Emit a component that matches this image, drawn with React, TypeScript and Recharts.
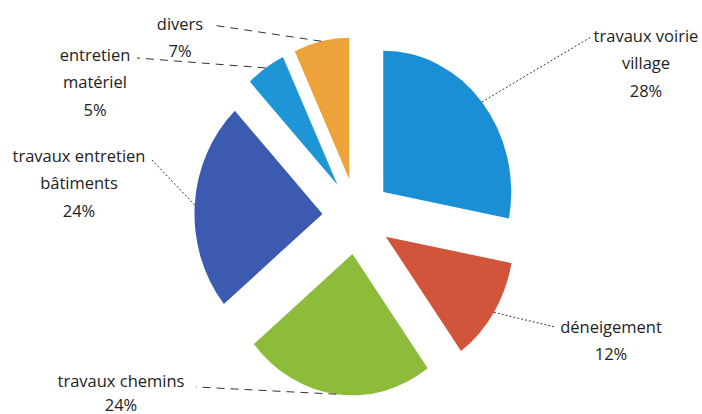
import { PieChart, Pie, Cell } from 'recharts';

const categories = [
  'travaux voirie village',
  'déneigement',
  'travaux chemins',
  'travaux entretien bâtiments',
  'entretien matériel',
  'divers',
];
const shares = [28, 12, 24, 24, 5, 7];
const colors = ['#1b8fd6', '#d0553a', '#8dbb3a', '#3c5bb0', '#1e96d6', '#eda33a'];
// how each category name is broken over lines in the label
const nameLines = [
  ['travaux voirie', 'village'],
  ['déneigement'],
  ['travaux chemins'],
  ['travaux entretien', 'bâtiments'],
  ['entretien', 'matériel'],
  ['divers'],
];

// label placement (text centre x, first line y, leader line end, dash style)
const labelLayout = [
  { x: 646, y: 35, end: [591, 37], dash: '2 2' },
  { x: 611, y: 326, end: [555, 327], dash: '2 2' },
  { x: 121, y: 380, end: [196, 387], dash: '8 6' },
  { x: 79, y: 155, end: [152, 160], dash: '2 2' },
  { x: 95, y: 54, end: [137, 58], dash: '8 6' },
  { x: 180, y: 23, end: [212, 25], dash: '8 6' },
];

const data = categories.map((name, i) => ({ name, value: shares[i] }));
const total = shares.reduce((a, b) => a + b, 0);

const CX = 352;
const CY = 211;
const RADIUS = 134;
const EXPLODE = 36;
// the scanned original is slightly stretched vertically
const SX = 0.955;
const SY = 1.055;
const RAD = Math.PI / 180;

function midAngle(i: number) {
  const before = shares.slice(0, i).reduce((a, b) => a + b, 0);
  return 90 - (360 * (before + shares[i] / 2)) / total;
}

function makeLabel(slice: number) {
  return (props: any) => {
    if (props.index !== slice) return null;
    const { cx, cy, outerRadius } = props;
    const a = props.midAngle;
    const px = cx + outerRadius * Math.cos(-a * RAD);
    const py = cy + outerRadius * Math.sin(-a * RAD);
    const sx = CX + SX * (px - CX);
    const sy = CY + SY * (py - CY);
    const lay = labelLayout[slice];
    const lines = [...nameLines[slice], `${shares[slice]}%`];
    return (
      <g>
        <line
          x1={sx}
          y1={sy}
          x2={lay.end[0]}
          y2={lay.end[1]}
          stroke="#333"
          strokeWidth={1}
          strokeDasharray={lay.dash}
        />
        {lines.map((t, k) => (
          <text
            key={k}
            x={lay.x}
            y={Math.min(lay.y + k * 27.5, 404)}
            textAnchor="middle"
            dominantBaseline="central"
            fill="#222"
            fontSize={16.5}
            fontFamily="'Open Sans', sans-serif"
          >
            {t}
          </text>
        ))}
      </g>
    );
  };
}

export default function App() {
  return (
    <div style={{ position: 'absolute', left: 0, top: 0, background: '#fff' }}>
      <style>{`.exploded .recharts-sector { transform-origin: ${CX}px ${CY}px; transform: scale(${SX}, ${SY}); }`}</style>
      <PieChart width={702} height={414}>
        {data.map((_, i) => {
          const m = midAngle(i);
          return (
            <Pie
              key={i}
              className="exploded"
              data={data}
              dataKey="value"
              cx={CX + EXPLODE * Math.cos(m * RAD)}
              cy={CY - EXPLODE * Math.sin(m * RAD)}
              outerRadius={RADIUS}
              startAngle={90}
              endAngle={-270}
              stroke="none"
              label={makeLabel(i)}
              labelLine={false}
              isAnimationActive={false}
            >
              {data.map((__, j) => (
                <Cell key={j} fill={j === i ? colors[i] : 'none'} stroke="none" />
              ))}
            </Pie>
          );
        })}
      </PieChart>
    </div>
  );
}
